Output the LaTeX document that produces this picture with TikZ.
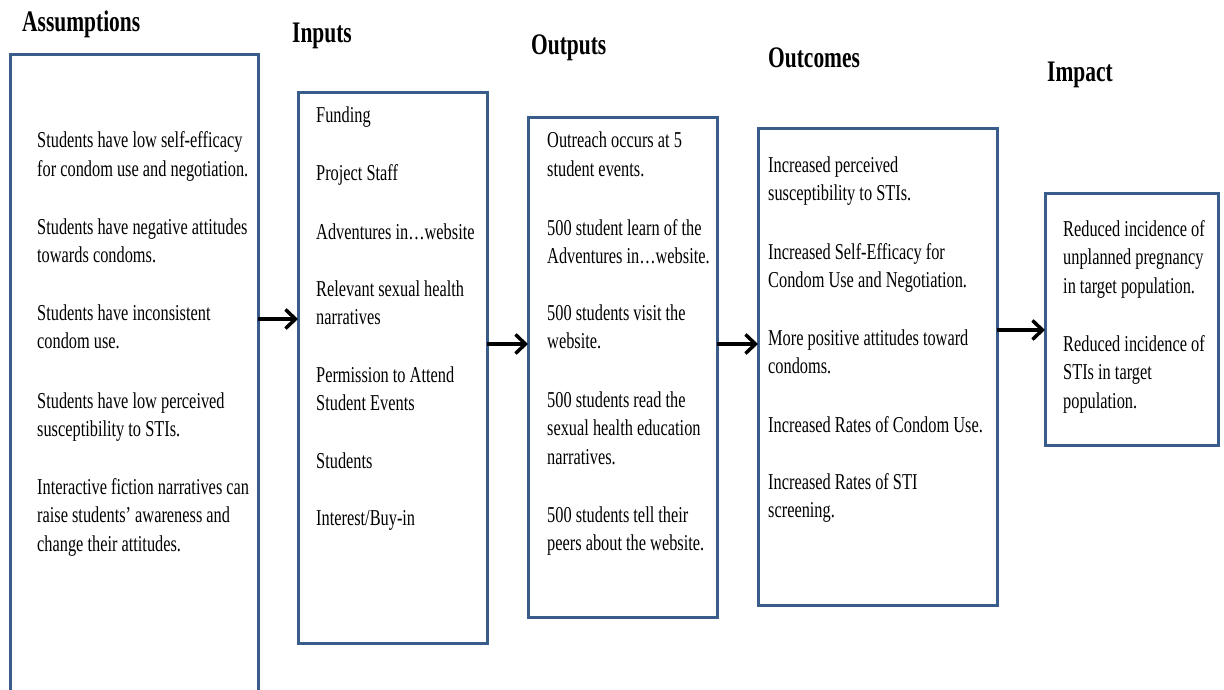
\documentclass[tikz,border=0pt]{standalone}
\usepackage{fontspec}
\setmainfont{Liberation Serif}[FakeStretch=0.72]
\usetikzlibrary{arrows.meta}
\definecolor{boxblue}{RGB}{56,93,138}
\begin{document}
\begin{tikzpicture}[x=1pt,y=-1pt,
 box/.style={draw=boxblue, line width=3pt, fill=white, anchor=north west, inner sep=0pt, outer sep=0pt},
 txt/.style={anchor=base west, inner sep=0pt, align=left, font=\fontsize{22.7}{28.5}\selectfont},
 head/.style={anchor=base west, inner sep=0pt, font=\fontsize{29.8}{32}\selectfont\bfseries},
 arr/.style={line width=3.5pt, -{Straight Barb[length=10pt,width=19pt]}}]
\useasboundingbox (0,0) rectangle (1224,690);
\clip (0,0) rectangle (1224,690);

% headings
\node[head] (hA) at (22,32) {Assumptions};
\node[head] (hI) at (292,43) {Inputs};
\node[head] (hO) at (531,55) {Outputs};
\node[head] (hC) at (768,68) {Outcomes};
\node[head] (hM) at (1047,82) {Impact};

% boxes
\node[box, minimum width=248pt, minimum height=640pt] (assump) at (10,55) {};
\node[box, minimum width=189pt, minimum height=550pt] (inputs) at (298,93) {};
\node[box, minimum width=189pt, minimum height=499pt] (outputs) at (528,118) {};
\node[box, minimum width=239pt, minimum height=476pt] (outcomes) at (758,129) {};
\node[box, minimum width=173pt, minimum height=252pt] (impact) at (1045,193) {};

% assumptions text (position = baseline of last line)
\node[txt] (a1) at (37,176.5) {Students have low self-efficacy\\for condom use and negotiation.};
\node[txt] (a2) at (37,262.5) {Students have negative attitudes\\towards condoms.};
\node[txt] (a3) at (37,348.5) {Students have inconsistent\\condom use.};
\node[txt] (a4) at (37,436.5) {Students have low perceived\\susceptibility to STIs.};
\node[txt] (a5) at (37,551) {Interactive fiction narratives can\\raise students’ awareness and\\change their attitudes.};

% inputs text
\node[txt] (i1) at (316,123) {Funding};
\node[txt] (i2) at (316,180) {Project Staff};
\node[txt] (i3) at (316,239) {Adventures in…website};
\node[txt] (i4) at (316,324.5) {Relevant sexual health\\narratives};
\node[txt] (i5) at (316,410.5) {Permission to Attend\\Student Events};
\node[txt] (i6) at (316,468) {Students};
\node[txt] (i7) at (316,525) {Interest/Buy-in};

% outputs text
\node[txt] (o1) at (547,176.5) {Outreach occurs at 5\\student events.};
\node[txt] (o2) at (547,263.5) {500 student learn of the\\Adventures in…website.};
\node[txt] (o3) at (547,348.5) {500 students visit the\\website.};
\node[txt] (o4) at (547,464) {500 students read the\\sexual health education\\narratives.};
\node[txt] (o5) at (547,550.5) {500 students tell their\\peers about the website.};

% outcomes text
\node[txt] (c1) at (768,200.5) {Increased perceived\\susceptibility to STIs.};
\node[txt] (c2) at (768,287.5) {Increased Self-Efficacy for\\Condom Use and Negotiation.};
\node[txt] (c3) at (768,373.5) {More positive attitudes toward\\condoms.};
\node[txt] (c4) at (768,432) {Increased Rates of Condom Use.};
\node[txt] (c5) at (768,517.5) {Increased Rates of STI\\screening.};

% impact text
\node[txt] (m1) at (1063,293) {Reduced incidence of\\unplanned pregnancy\\in target population.};
\node[txt] (m2) at (1063,408) {Reduced incidence of\\STIs in target\\population.};

% arrows
\coordinate (y1) at (0,319);
\coordinate (y2) at (0,344);
\coordinate (y3) at (0,344);
\coordinate (y4) at (0,330);
\draw[arr] (assump.east |- y1) -- (inputs.west |- y1);
\draw[arr] (inputs.east |- y2) -- (outputs.west |- y2);
\draw[arr] (outputs.east |- y3) -- (outcomes.west |- y3);
\draw[arr] (outcomes.east |- y4) -- (impact.west |- y4);
\end{tikzpicture}
\end{document}
